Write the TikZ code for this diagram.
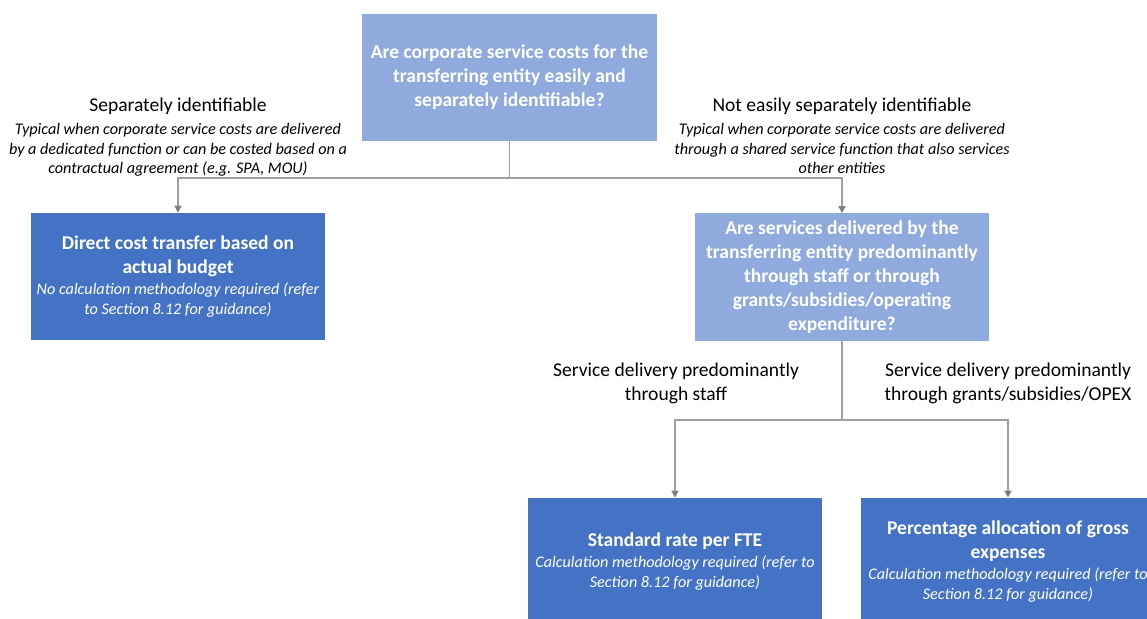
\documentclass[tikz,border=0pt]{standalone}
\usepackage{fontspec}
\setmainfont{Carlito}
\usetikzlibrary{arrows.meta,positioning}
\definecolor{qblue}{HTML}{8FAADC}
\definecolor{ablue}{HTML}{4472C4}
\definecolor{linegray}{HTML}{A0A0A0}
\definecolor{tipgray}{HTML}{808080}
\newcommand{\subtext}[1]{{\normalfont\itshape\fontsize{11.5}{13.5}\selectfont #1}}

\begin{document}
\begin{tikzpicture}[x=0.025cm,y=-0.025cm,
    question/.style={fill=qblue, text=white, font=\bfseries\fontsize{13.9}{17}\selectfont,
        minimum width=7.35cm, minimum height=3.175cm, align=center, inner sep=0pt},
    answer/.style={question, fill=ablue},
    note/.style={font=\fontsize{13.9}{17}\selectfont, align=center, inner sep=0pt, anchor=north},
    conn/.style={draw=linegray, line width=1pt},
    arr/.style={conn, -{Triangle[length=5pt,width=5pt,color=tipgray]}}]

    \useasboundingbox (0,0) rectangle (1147,619);
    \clip (0,0) rectangle (1147,619);

    % boxes
    \node[question] (q1) at (509.5,77.5) {Are corporate service costs for the\\transferring entity easily and\\separately identifiable?};
    \node[answer] (direct) at (178,276.5) {Direct cost transfer based on\\actual budget\\[-2pt]
        \subtext{No calculation methodology required (refer}\\[-3pt]\subtext{to Section 8.12 for guidance)}};
    \node[question] (q2) at (842,277) {Are services delivered by the\\transferring entity predominantly\\through staff or through\\grants/subsidies/operating\\expenditure?};
    \node[answer] (fte) at (675,561.5) {Standard rate per FTE\\[-2pt]
        \subtext{Calculation methodology required (refer to}\\[-3pt]\subtext{Section 8.12 for guidance)}};
    \node[answer] (pct) at (1008,561.5) {Percentage allocation of gross\\expenses\\[-2pt]
        \subtext{Calculation methodology required (refer to}\\[-3pt]\subtext{Section 8.12 for guidance)}};

    % branch labels
    \node[note] (lsep) at (178,98) {Separately identifiable\\[-1pt]
        \subtext{Typical when corporate service costs are delivered}\\[-3pt]
        \subtext{by a dedicated function or can be costed based on a}\\[-3pt]
        \subtext{contractual agreement (e.g. SPA, MOU)}};
    \node[note] (lnot) at (842,98) {Not easily separately identifiable\\[-1pt]
        \subtext{Typical when corporate service costs are delivered}\\[-3pt]
        \subtext{through a shared service function that also services}\\[-3pt]
        \subtext{other entities}};
    \node[note] (lstaff) at (676,363) {Service delivery predominantly\\through staff};
    \node[note] (lopex) at (1008,363) {Service delivery predominantly\\through grants/subsidies/OPEX};

    % connectors
    \coordinate (j1) at (q1.south |- 0,178);
    \coordinate (j2) at (q2.south |- 0,420);
    \draw[conn] (q1.south) -- (j1);
    \draw[arr] (j1) -| (direct.north);
    \draw[arr] (j1) -| (q2.north);
    \draw[conn] (q2.south) -- (j2);
    \draw[arr] (j2) -| (fte.north);
    \draw[arr] (j2) -| (pct.north);

\end{tikzpicture}
\end{document}
